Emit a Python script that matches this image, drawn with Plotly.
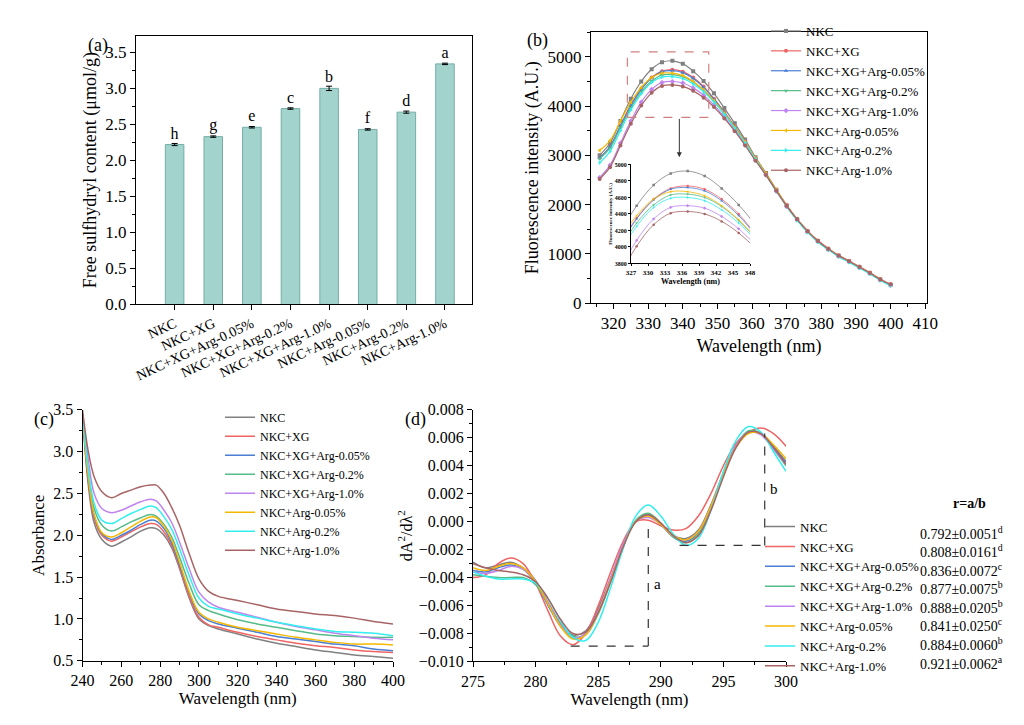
"""Four-panel figure: free SH content, fluorescence, UV absorbance, UV 2nd derivative."""
import plotly.graph_objects as go

FONT = 'Times New Roman, Liberation Serif, DejaVu Serif, serif'

# ---- (a) free sulfhydryl ----
groups = ['NKC', 'NKC+XG', 'NKC+XG+Arg-0.05%', 'NKC+XG+Arg-0.2%', 'NKC+XG+Arg-1.0%',
          'NKC+Arg-0.05%', 'NKC+Arg-0.2%', 'NKC+Arg-1.0%']
sh_vals = [2.22, 2.33, 2.46, 2.72, 3.00, 2.43, 2.67, 3.34]
sh_err = [0.015, 0.01, 0.01, 0.01, 0.03, 0.01, 0.015, 0.01]
sh_letters = ['h', 'g', 'e', 'c', 'b', 'f', 'd', 'a']

colors = ['#808080', '#f06464', '#4a7fd4', '#55bb88', '#c084f0', '#f5b800', '#33eeee', '#a86464']
symbols = ['square', 'circle', 'triangle-up', 'triangle-down', 'diamond',
           'triangle-left', 'triangle-right', 'circle']

# ---- (b) fluorescence ----
fl_x = [316, 319, 322, 325, 328, 331, 334, 337, 340, 343, 346, 349, 352, 355, 358,
        361, 364, 367, 370, 373, 376, 379, 382, 385, 388, 391, 394, 397, 400]
fl_y = [
    [3000, 3250, 3700, 4150, 4500, 4750, 4890, 4920, 4860, 4710, 4510, 4260, 3960, 3650, 3320, 2960, 2640, 2300, 1980, 1700, 1460, 1260, 1100, 960, 850, 730, 610, 480, 370],
    [2950, 3180, 3600, 4020, 4350, 4580, 4710, 4740, 4700, 4580, 4400, 4150, 3880, 3590, 3280, 2940, 2630, 2300, 1990, 1710, 1470, 1270, 1110, 970, 860, 740, 620, 490, 380],
    [2950, 3180, 3600, 4010, 4340, 4570, 4700, 4720, 4680, 4560, 4380, 4140, 3870, 3580, 3270, 2930, 2620, 2290, 1980, 1700, 1460, 1260, 1100, 960, 850, 730, 610, 480, 370],
    [2930, 3150, 3560, 3960, 4290, 4510, 4630, 4640, 4600, 4490, 4320, 4100, 3840, 3550, 3250, 2920, 2610, 2280, 1970, 1690, 1450, 1250, 1090, 950, 840, 720, 600, 470, 360],
    [2550, 2800, 3250, 3700, 4080, 4340, 4480, 4500, 4470, 4370, 4220, 4020, 3780, 3510, 3220, 2900, 2600, 2270, 1960, 1690, 1450, 1250, 1090, 950, 840, 720, 600, 470, 360],
    [3100, 3300, 3700, 4080, 4380, 4580, 4670, 4670, 4620, 4500, 4330, 4110, 3850, 3570, 3270, 2940, 2630, 2300, 1980, 1700, 1460, 1260, 1100, 960, 850, 730, 610, 480, 370],
    [2850, 3080, 3500, 3920, 4250, 4480, 4590, 4600, 4560, 4450, 4290, 4080, 3830, 3550, 3250, 2920, 2600, 2270, 1960, 1680, 1440, 1240, 1080, 940, 830, 710, 590, 460, 350],
    [2520, 2760, 3200, 3640, 4010, 4270, 4410, 4430, 4400, 4310, 4170, 3980, 3750, 3490, 3200, 2890, 2600, 2280, 1970, 1700, 1460, 1260, 1100, 960, 850, 730, 610, 480, 380],
]
zoom_box = [324, 347.5, 3770, 5100]   # x0, x1, y0, y1 of dashed box

# ---- (c) UV absorbance ----
uv_x = [240, 243, 246, 250, 255, 260, 265, 270, 275, 278, 282, 286, 290, 295, 300,
        305, 310, 320, 330, 340, 350, 360, 370, 380, 390, 400]
uv_y = [
    [3.45, 2.6, 2.15, 1.95, 1.87, 1.92, 1.98, 2.05, 2.09, 2.08, 2.0, 1.85, 1.6, 1.25, 1.0, 0.92, 0.88, 0.82, 0.76, 0.71, 0.67, 0.63, 0.6, 0.57, 0.55, 0.53],
    [3.45, 2.65, 2.2, 2.0, 1.93, 1.98, 2.04, 2.1, 2.14, 2.13, 2.04, 1.88, 1.62, 1.27, 1.02, 0.93, 0.9, 0.84, 0.79, 0.75, 0.71, 0.68, 0.66, 0.63, 0.61, 0.60],
    [3.45, 2.68, 2.23, 2.02, 1.95, 2.0, 2.06, 2.13, 2.18, 2.17, 2.08, 1.91, 1.65, 1.31, 1.06, 0.98, 0.94, 0.89, 0.84, 0.79, 0.76, 0.73, 0.7, 0.68, 0.64, 0.62],
    [3.45, 2.75, 2.32, 2.12, 2.05, 2.1, 2.16, 2.21, 2.25, 2.23, 2.13, 1.98, 1.74, 1.42, 1.17, 1.1, 1.06, 0.99, 0.94, 0.9, 0.86, 0.82, 0.8, 0.79, 0.78, 0.78],
    [3.45, 2.9, 2.5, 2.32, 2.27, 2.3, 2.35, 2.4, 2.43, 2.41, 2.3, 2.15, 1.92, 1.6, 1.32, 1.2, 1.14, 1.08, 1.02, 0.96, 0.91, 0.87, 0.83, 0.8, 0.77, 0.75],
    [3.45, 2.7, 2.25, 2.03, 1.98, 2.03, 2.1, 2.17, 2.22, 2.21, 2.11, 1.94, 1.68, 1.33, 1.08, 1.0, 0.96, 0.9, 0.86, 0.82, 0.78, 0.75, 0.72, 0.7, 0.7, 0.69],
    [3.45, 2.8, 2.38, 2.18, 2.14, 2.2, 2.26, 2.31, 2.35, 2.33, 2.22, 2.07, 1.84, 1.52, 1.25, 1.15, 1.12, 1.06, 1.01, 0.96, 0.92, 0.88, 0.85, 0.84, 0.83, 0.80],
    [3.5, 3.0, 2.7, 2.52, 2.45, 2.5, 2.54, 2.58, 2.6, 2.6, 2.5, 2.33, 2.12, 1.78, 1.48, 1.33, 1.27, 1.22, 1.17, 1.12, 1.09, 1.06, 1.04, 1.01, 0.97, 0.94],
]

# ---- (d) second derivative ----
d2_x = list(range(275, 301))
d2_y = [
    [-0.0029, -0.0033, -0.0031, -0.0029, -0.0033, -0.0042, -0.0058, -0.0073, -0.0081, -0.0078, -0.0062, -0.0040, -0.0017, 0.0000, 0.0005, -0.0002, -0.0010, -0.0012, -0.0006, 0.0012, 0.0035, 0.0054, 0.0064, 0.0063, 0.0054, 0.0043],
    [-0.0040, -0.0038, -0.0030, -0.0026, -0.0030, -0.0044, -0.0064, -0.0082, -0.0088, -0.0080, -0.0060, -0.0036, -0.0014, 0.0000, 0.0001, -0.0003, -0.0006, -0.0005, 0.0004, 0.0020, 0.0040, 0.0056, 0.0064, 0.0067, 0.0063, 0.0054],
    [-0.0035, -0.0036, -0.0033, -0.0031, -0.0034, -0.0044, -0.0060, -0.0075, -0.0083, -0.0080, -0.0064, -0.0041, -0.0017, 0.0000, 0.0005, -0.0002, -0.0011, -0.0014, -0.0008, 0.0010, 0.0033, 0.0053, 0.0064, 0.0063, 0.0053, 0.0042],
    [-0.0038, -0.0039, -0.0040, -0.0040, -0.0040, -0.0045, -0.0058, -0.0073, -0.0082, -0.0081, -0.0066, -0.0043, -0.0018, 0.0001, 0.0006, -0.0001, -0.0011, -0.0015, -0.0009, 0.0010, 0.0034, 0.0054, 0.0065, 0.0063, 0.0052, 0.0040],
    [-0.0036, -0.0037, -0.0035, -0.0032, -0.0034, -0.0043, -0.0058, -0.0074, -0.0083, -0.0080, -0.0064, -0.0040, -0.0016, 0.0000, 0.0003, -0.0002, -0.0010, -0.0013, -0.0007, 0.0011, 0.0034, 0.0054, 0.0064, 0.0062, 0.0052, 0.0041],
    [-0.0033, -0.0035, -0.0032, -0.0030, -0.0033, -0.0043, -0.0059, -0.0075, -0.0084, -0.0081, -0.0065, -0.0042, -0.0018, 0.0000, 0.0004, -0.0002, -0.0010, -0.0013, -0.0007, 0.0011, 0.0034, 0.0053, 0.0063, 0.0063, 0.0055, 0.0045],
    [-0.0036, -0.0039, -0.0041, -0.0041, -0.0041, -0.0044, -0.0055, -0.0071, -0.0083, -0.0085, -0.0072, -0.0047, -0.0019, 0.0004, 0.0012, 0.0004, -0.0009, -0.0017, -0.0012, 0.0008, 0.0036, 0.0058, 0.0068, 0.0064, 0.0050, 0.0036],
    [-0.0030, -0.0033, -0.0035, -0.0036, -0.0038, -0.0043, -0.0055, -0.0070, -0.0080, -0.0079, -0.0065, -0.0043, -0.0018, 0.0000, 0.0005, -0.0001, -0.0010, -0.0015, -0.0010, 0.0008, 0.0032, 0.0053, 0.0064, 0.0063, 0.0053, 0.0041],
]
r_values = ['0.792±0.0051<sup>d</sup>', '0.808±0.0161<sup>d</sup>', '0.836±0.0072<sup>c</sup>',
            '0.877±0.0075<sup>b</sup>', '0.888±0.0205<sup>b</sup>', '0.841±0.0250<sup>c</sup>',
            '0.884±0.0060<sup>b</sup>', '0.921±0.0062<sup>a</sup>']
# guide lines a and b: (x_min, x_peak, y_min, y_peak)
guide_a = (282.8, 289.0, -0.0089, 0.0000)
guide_b = (291.5, 298.3, -0.0017, 0.0063)

fig = go.Figure()

fig.add_trace(go.Bar(
    x=groups, y=sh_vals, width=0.48, xaxis='x', yaxis='y', showlegend=False,
    marker=dict(color='#a3d3cd', line=dict(color='#73aea7', width=1)),
    error_y=dict(type='data', array=sh_err, color='black', thickness=1, width=3),
    text=sh_letters, textposition='outside', textfont=dict(family=FONT, size=16, color='black'),
    cliponaxis=False,
))

for i, g in enumerate(groups):
    mk = dict(symbol=symbols[i], size=4, color=colors[i])
    fig.add_trace(go.Scatter(x=fl_x, y=fl_y[i], name=g, mode='lines+markers', xaxis='x2', yaxis='y2',
                             line=dict(color=colors[i], width=1.2, shape='spline'), marker=mk,
                             legend='legend'))
    fig.add_trace(go.Scatter(x=fl_x, y=fl_y[i], mode='lines+markers', xaxis='x3', yaxis='y3',
                             line=dict(color=colors[i], width=0.8, shape='spline'),
                             marker=dict(symbol=symbols[i], size=2.5, color=colors[i]), showlegend=False))
    fig.add_trace(go.Scatter(x=uv_x, y=uv_y[i], name=g, mode='lines', xaxis='x4', yaxis='y4',
                             line=dict(color=colors[i], width=1.5, shape='spline'), legend='legend2'))
    fig.add_trace(go.Scatter(x=d2_x, y=d2_y[i], name=g, mode='lines', xaxis='x5', yaxis='y5',
                             line=dict(color=colors[i], width=1.5, shape='spline'), legend='legend3'))

ax = dict(showline=True, linecolor='black', linewidth=1, ticks='outside', ticklen=5,
          tickcolor='black', showgrid=False, zeroline=False,
          tickfont=dict(family=FONT, size=15, color='black'))

def axis(**kw):
    d = dict(ax)
    d.update(kw)
    return d

big = dict(family=FONT, size=17, color='black')
mid = dict(family=FONT, size=16, color='black')

fig.update_layout(
    width=1024, height=725, margin=dict(l=0, r=0, t=0, b=0),
    plot_bgcolor='white', paper_bgcolor='white',
    font=dict(family=FONT, color='black'),
    xaxis=axis(domain=[0.116, 0.452], anchor='y', range=[-1, 7.7], mirror=True, tickangle=-25,
               tickfont=dict(family=FONT, size=14, color='black')),
    yaxis=axis(domain=[0.592, 0.972], anchor='x', range=[0, 3.73], dtick=0.5, tickformat='.1f',
               mirror=True, minor=dict(ticks='outside', ticklen=3, dtick=0.25), tickfont=big,
               title=dict(text='Free sulfhydryl content (μmol/g)', font=dict(family=FONT, size=18), standoff=4)),
    xaxis2=axis(domain=[0.571, 0.907], anchor='y2', range=[313.5, 410.5], dtick=10, mirror=True,
                minor=dict(ticks='outside', ticklen=3, dtick=5), tickfont=big,
                title=dict(text='Wavelength (nm)', font=dict(family=FONT, size=18), standoff=6)),
    yaxis2=axis(domain=[0.594, 0.977], anchor='x2', range=[0, 5500], dtick=1000, mirror=True,
                minor=dict(ticks='outside', ticklen=3, dtick=500), tickfont=big,
                title=dict(text='Fluorescence intensity (A.U.)', font=dict(family=FONT, size=18), standoff=4)),
    xaxis3=axis(domain=[0.611, 0.730], anchor='y3', range=[327, 348], dtick=3, ticklen=2,
                tickfont=dict(family=FONT, size=7, color='black', weight='bold'),
                title=dict(text='<b>Wavelength (nm)</b>', font=dict(family=FONT, size=8), standoff=2)),
    yaxis3=axis(domain=[0.650, 0.790], anchor='x3', range=[3800, 5000], dtick=200, ticklen=2,
                tickfont=dict(family=FONT, size=6, color='black', weight='bold'),
                title=dict(text='<b>Fluorescence intensity (A.U.)</b>', font=dict(family=FONT, size=5), standoff=2)),
    xaxis4=axis(domain=[0.0625, 0.373], anchor='y4', range=[240, 400], dtick=20, tickfont=mid,
                minor=dict(ticks='outside', ticklen=3, dtick=10),
                title=dict(text='Wavelength (nm)', font=big, standoff=4)),
    yaxis4=axis(domain=[0.088, 0.443], anchor='x4', range=[0.5, 3.5], dtick=0.5, tickformat='.1f',
                minor=dict(ticks='outside', ticklen=3, dtick=0.25), tickfont=mid,
                title=dict(text='Absorbance', font=big, standoff=4)),
    xaxis5=axis(domain=[0.453, 0.766], anchor='y5', range=[275, 300], dtick=5, tickfont=mid,
                minor=dict(ticks='outside', ticklen=3, dtick=2.5),
                title=dict(text='Wavelength (nm)', font=big, standoff=4)),
    yaxis5=axis(domain=[0.087, 0.443], anchor='x5', range=[-0.010, 0.008], dtick=0.002, tickformat='.3f',
                minor=dict(ticks='outside', ticklen=3, dtick=0.001), tickfont=mid,
                title=dict(text='dA<sup>2</sup>/dλ<sup>2</sup>', font=mid, standoff=2)),
    legend=dict(x=0.746, y=1.0, xanchor='left', yanchor='top', bgcolor='rgba(0,0,0,0)',
                font=dict(family=FONT, size=13), itemwidth=30, tracegroupgap=0),
    legend2=dict(x=0.200, y=0.453, xanchor='left', yanchor='top', bgcolor='rgba(0,0,0,0)',
                 font=dict(family=FONT, size=12), itemwidth=30),
    legend3=dict(x=0.740, y=0.299, xanchor='left', yanchor='top', bgcolor='rgba(0,0,0,0)',
                 font=dict(family=FONT, size=13), itemwidth=30),
)

# dashed zoom box + arrow in (b)
x0, x1, y0, y1 = zoom_box
fig.add_shape(type='rect', xref='x2', yref='y2', x0=x0, x1=x1, y0=y0, y1=y1,
              line=dict(color='#d08080', width=1.2, dash='dash'))
fig.add_annotation(xref='x2', yref='y2', axref='x2', ayref='y2', x=339, y=2960, ax=339, ay=y0,
                   showarrow=True, arrowhead=2, arrowsize=1, arrowwidth=1, arrowcolor='#333', text='')

# guide lines in (d)
for (gx0, gx1, gy0, gy1), lab in [(guide_a, 'a'), (guide_b, 'b')]:
    dl = dict(color='#333', width=1.2, dash='dash')
    fig.add_shape(type='line', xref='x5', yref='y5', x0=gx0, x1=gx1, y0=gy0, y1=gy0, line=dl)
    fig.add_shape(type='line', xref='x5', yref='y5', x0=gx1, x1=gx1, y0=gy0, y1=gy1, line=dl)
    fig.add_annotation(xref='x5', yref='y5', x=gx1 + 0.3, y=(gy0 + gy1) / 2, text=lab, showarrow=False,
                       xanchor='left', font=dict(family=FONT, size=15))

# r = a/b column, rows follow the legend3 row pitch
fig.add_annotation(xref='paper', yref='paper', x=0.949, y=1 - 510 / 725, text='<b>r=a/b</b>',
                   showarrow=False, xanchor='center', font=dict(family=FONT, size=14))
for i, r in enumerate(r_values):
    fig.add_annotation(xref='paper', yref='paper', x=0.985, y=1 - (530 + i * 19.0) / 725, text=r,
                       showarrow=False, xanchor='right', yanchor='middle', font=dict(family=FONT, size=14))

# panel labels
for lab, px, py in [('(a)', 80, 30), ('(b)', 530, 25), ('(c)', 25, 414), ('(d)', 405, 414)]:
    fig.add_annotation(xref='paper', yref='paper', x=px / 1024, y=1 - py / 725, text=lab,
                       showarrow=False, xanchor='center', yanchor='middle', font=dict(family=FONT, size=18))

fig.write_html('out.html')
